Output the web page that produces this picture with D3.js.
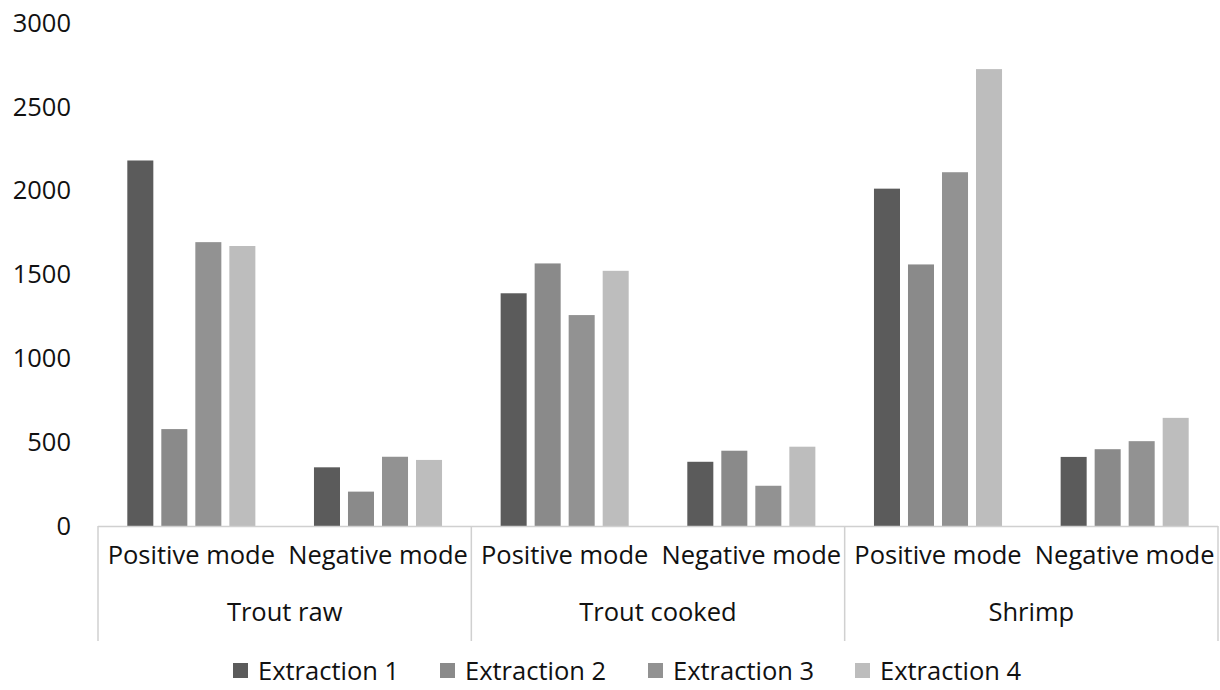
<!DOCTYPE html>
<html>
<head>
<meta charset="utf-8">
<script src="https://cdn.jsdelivr.net/npm/d3@7/dist/d3.min.js"></script>
<style>
  html, body { margin: 0; padding: 0; background: #fff; }
  svg { display: block; }
  text { font-family: "Open Sans", "Noto Sans", sans-serif; fill: #111; }
</style>
</head>
<body>
<svg id="chart" width="1220" height="690"></svg>
<script>
const groups = ["Trout raw", "Trout cooked", "Shrimp"];
const modes = ["Positive mode", "Negative mode"];
const series = ["Extraction 1", "Extraction 2", "Extraction 3", "Extraction 4"];
const colors = ["#5b5b5b", "#8a8a8a", "#929292", "#bdbdbd"];
const yTicks = [0, 500, 1000, 1500, 2000, 2500, 3000];

// values per series, ordered: Trout raw (Pos, Neg), Trout cooked (Pos, Neg), Shrimp (Pos, Neg)
const extraction1 = [2180, 350, 1388, 383, 2012, 412];
const extraction2 = [578, 205, 1566, 449, 1560, 458];
const extraction3 = [1693, 413, 1258, 240, 2110, 506];
const extraction4 = [1670, 394, 1522, 473, 2725, 645];
const seriesValues = [extraction1, extraction2, extraction3, extraction4];

(function () {
const svg = d3.select("#chart");
const mLeft = 98, mRight = 1218, mTop = 23, mBottom = 526;
const fs = "25.5px";

const y = d3.scaleLinear().domain([0, 3000]).range([mBottom, mTop]);
const xg = d3.scaleBand().domain(groups).range([mLeft, mRight]).padding(0);
const xs = d3.scaleBand().domain(modes).range([0, xg.bandwidth()])
  .paddingInner(0.314).paddingOuter(0.157);
const xb = d3.scaleBand().domain(series).range([0, xs.bandwidth()])
  .paddingInner(0.235).paddingOuter(0);
const color = d3.scaleOrdinal().domain(series).range(colors);

// y axis labels
const yAxis = d3.axisLeft(y).tickValues(yTicks).tickSize(0).tickPadding(27).tickFormat(d3.format("d"));
const yg = svg.append("g").attr("transform", `translate(${mLeft},0)`).call(yAxis);
yg.select(".domain").remove();
yg.selectAll("text").style("font-size", fs).style("font-family", '"Open Sans", sans-serif').attr("fill", "#111");

// bars
const rows = [];
groups.forEach((g, gi) => modes.forEach((m, mi) => {
  const idx = gi * 2 + mi;
  series.forEach((s, si) => rows.push({ g, m, s, v: seriesValues[si][idx] }));
}));

svg.append("g").selectAll("rect").data(rows).join("rect")
  .attr("x", d => xg(d.g) + xs(d.m) + xb(d.s))
  .attr("y", d => y(d.v))
  .attr("width", xb.bandwidth())
  .attr("height", d => y(0) - y(d.v))
  .attr("fill", d => color(d.s));

// x axis baseline
svg.append("line").attr("x1", mLeft).attr("x2", mRight).attr("y1", mBottom + 0.5).attr("y2", mBottom + 0.5)
  .attr("stroke", "#d0d0d0").attr("stroke-width", 1.5);

// group dividers
const bounds = groups.map(g => xg(g)).concat([xg(groups[groups.length - 1]) + xg.bandwidth()]);
svg.append("g").selectAll("line").data(bounds).join("line")
  .attr("x1", d => d).attr("x2", d => d)
  .attr("y1", mBottom).attr("y2", 641)
  .attr("stroke", "#d0d0d0").attr("stroke-width", 1.5);

// sub-category labels
const subRows = [];
groups.forEach(g => modes.forEach(m => subRows.push({ g, m })));
svg.append("g").selectAll("text").data(subRows).join("text")
  .attr("x", d => xg(d.g) + xs(d.m) + xs.bandwidth() / 2)
  .attr("y", 564)
  .attr("text-anchor", "middle")
  .style("font-size", fs)
  .text(d => d.m);

// group labels
svg.append("g").selectAll("text").data(groups).join("text")
  .attr("x", d => xg(d) + xg.bandwidth() / 2)
  .attr("y", 621)
  .attr("text-anchor", "middle")
  .style("font-size", fs)
  .text(d => d);

// legend
const legendX = [233, 440, 648, 855];
const lg = svg.append("g").selectAll("g").data(series).join("g")
  .attr("transform", (d, i) => `translate(${legendX[i]},663)`);
lg.append("rect").attr("width", 15).attr("height", 15).attr("fill", d => color(d));
lg.append("text").attr("x", 25).attr("y", 17).style("font-size", fs).text(d => d);
})();
</script>
</body>
</html>
